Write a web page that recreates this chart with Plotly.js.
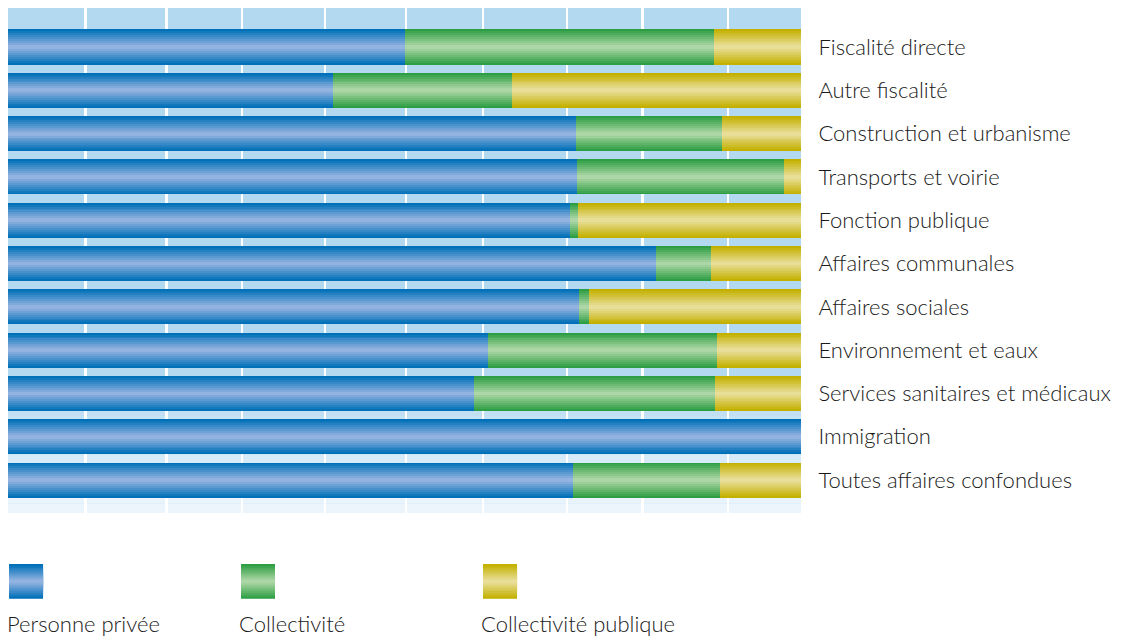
<!DOCTYPE html>
<html>
<head>
<meta charset="utf-8">
<script src="https://cdn.plot.ly/plotly-3.0.1.min.js"></script>
<style>html,body{margin:0;padding:0;background:#fff;}#chart{width:1127px;height:640px;}</style>
</head>
<body>
<div id="chart"></div>
<script>
// ---- data ----
const categories = [
  "Fiscalité directe",
  "Autre fiscalité",
  "Construction et urbanisme",
  "Transports et voirie",
  "Fonction publique",
  "Affaires communales",
  "Affaires sociales",
  "Environnement et eaux",
  "Services sanitaires et médicaux",
  "Immigration",
  "Toutes affaires confondues"
];
const seriesNames = ["Personne privée", "Collectivité", "Collectivité publique"];
const personnePrivee      = [50.0, 41.0, 71.6, 71.8, 70.9, 81.7, 72.0, 60.5, 58.8, 100.0, 71.2];
const collectivite        = [39.0, 22.6, 18.4, 26.1, 1.0, 7.0, 1.3, 28.9, 30.4, 0.0, 18.6];
const collectivitePublique= [11.0, 36.4, 10.0, 2.1, 28.1, 11.3, 26.7, 10.6, 10.8, 0.0, 10.2];
const gridTicks = [9.8, 20, 29.5, 40, 50.2, 59.9, 70.5, 80, 90.8];

// ---- styling ----
const edgeColors   = ["#0070b8", "#2e9e44", "#c3b000"];
const centerColors = ["#92b2e0", "#acd6a5", "#e8de98"];
const BAR_W = 0.81;
const LAYERS = 9;
const FONT = "Lato, 'Open Sans', sans-serif";

function hex2rgb(h){h=h.replace('#','');return [parseInt(h.substr(0,2),16),parseInt(h.substr(2,2),16),parseInt(h.substr(4,2),16)];}
function lerp(a,b,t){const A=hex2rgb(a),B=hex2rgb(b);return 'rgb('+A.map((v,i)=>Math.round(v+(B[i]-v)*t)).join(',')+')';}

const series = [personnePrivee, collectivite, collectivitePublique];
const bases = series.map((s, si) => s.map((v, i) => {
  let b = 0; for (let k = 0; k < si; k++) b += series[k][i]; return b;
}));

const traces = [];
series.forEach((vals, si) => {
  for (let k = 0; k < LAYERS; k++) {
    const t = k / (LAYERS - 1);
    traces.push({
      type: 'bar', orientation: 'h',
      y: categories, x: vals, base: bases[si],
      width: BAR_W * (1 - k / LAYERS),
      marker: {color: lerp(edgeColors[si], centerColors[si], t), line: {width: 0}},
      name: seriesNames[si], showlegend: false, hoverinfo: k === 0 ? 'x+name' : 'skip'
    });
  }
});

// background gradient bands (lower part fades lighter)
const shapes = [];
const bgTop = "#b3d9f1", bgBottom = "#eef6fc";
const gStart = 0.27, nBands = 14; // paper y where fading begins
for (let b = 0; b < nBands; b++) {
  const y1 = gStart - b * gStart / nBands;
  const y0 = gStart - (b + 1) * gStart / nBands;
  shapes.push({type:'rect', xref:'paper', yref:'paper', x0:0, x1:1, y0:y0, y1:y1,
    fillcolor: lerp(bgTop, bgBottom, (b + 0.5) / nBands), line:{width:0}, layer:'below'});
}

// legend swatches (drawn below the plot) + texts
const sw = [{x0:0.0013, x1:0.0442}, {x0:0.2939, x1:0.3367}, {x0:0.5990, x1:0.6419}];
const swY0 = -0.170, swY1 = -0.101;
const annotations = [];
sw.forEach((s, si) => {
  for (let k = 0; k < LAYERS; k++) {
    const t = k / (LAYERS - 1);
    const h = (swY1 - swY0) * (1 - k / LAYERS) / 2;
    const mid = (swY0 + swY1) / 2;
    shapes.push({type:'rect', xref:'paper', yref:'paper', x0:s.x0, x1:s.x1, y0:mid - h, y1:mid + h,
      fillcolor: lerp(edgeColors[si], centerColors[si], t), line:{width:0}, layer:'above'});
  }
  annotations.push({xref:'paper', yref:'paper', x:s.x0 - 0.005, y:-0.219, xanchor:'left', yanchor:'middle',
    text: seriesNames[si], showarrow:false, font:{family:FONT, size:22, color:'#1a1a1a', weight:300}});
});

const layout = {
  width: 1127, height: 640,
  margin: {l: 8, r: 326, t: 8, b: 127},
  paper_bgcolor: '#ffffff', plot_bgcolor: bgTop,
  barmode: 'overlay', bargap: 0,
  showlegend: false,
  xaxis: {range: [0, 100], tickvals: gridTicks, showticklabels: false, showgrid: true,
          gridcolor: '#ffffff', gridwidth: 2.5, zeroline: false, showline: false, fixedrange: true},
  yaxis: {type: 'category', range: [10.76, -0.9], side: 'right', showgrid: false, zeroline: false,
          ticks: 'outside', ticklen: 12, tickcolor: 'rgba(0,0,0,0)', showline: false,
          tickfont: {family: FONT, size: 22, color: '#1a1a1a', weight: 300}, fixedrange: true},
  shapes: shapes, annotations: annotations,
  font: {family: FONT}
};

Plotly.newPlot('chart', traces, layout, {displayModeBar: false, staticPlot: true});
</script>
</body>
</html>
